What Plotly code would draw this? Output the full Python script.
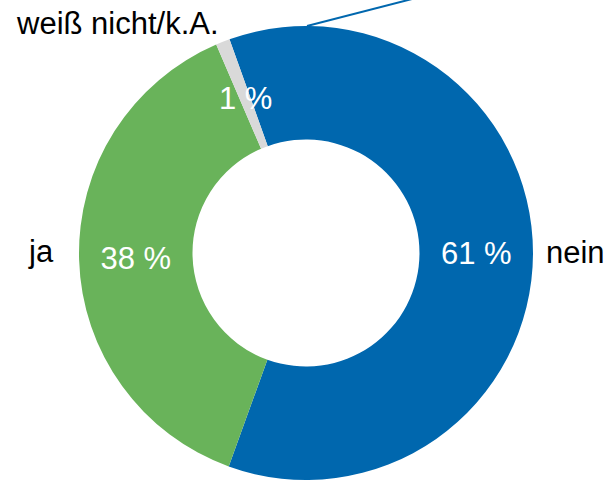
import plotly.graph_objects as go

categories = ["nein", "ja", "weiß nicht/k.A."]
values = [61, 38, 1]
pct_labels = ["61 %", "38 %", "1 %"]
colors = ["#0067AE", "#69B35A", "#D9D9D9"]

FONT = "Liberation Sans, Arial, sans-serif"
FS = 31

fig = go.Figure()
fig.add_trace(go.Pie(
    labels=categories,
    values=values,
    text=pct_labels,
    texttemplate=["%{text}", "%{text}", ""],
    textinfo="text",
    textposition="inside",
    insidetextorientation="horizontal",
    insidetextfont=dict(family=FONT, size=FS, color="white"),
    sort=False,
    direction="clockwise",
    rotation=340.3,
    hole=0.5,
    marker=dict(colors=colors, line=dict(width=0)),
    domain=dict(x=[79 / 608, 533 / 608], y=[2 / 482, 456 / 482]),
    showlegend=False,
    hoverinfo="label+percent",
))

W, H = 608, 482

def px(x):
    return x / W

def py(y):
    return 1 - y / H

annos = [
    dict(text=categories[2], x=px(14), y=py(23), xanchor="left", yanchor="middle", color="black"),
    dict(text=categories[1], x=px(41), y=py(251), xanchor="center", yanchor="middle", color="black"),
    dict(text=categories[0], x=px(575), y=py(252), xanchor="center", yanchor="middle", color="black"),
    dict(text=pct_labels[2], x=px(245), y=py(99), xanchor="center", yanchor="middle", color="white"),
]
for a in annos:
    fig.add_annotation(
        text=a["text"], x=a["x"], y=a["y"], xref="paper", yref="paper",
        xanchor=a["xanchor"], yanchor=a["yanchor"], showarrow=False,
        font=dict(family=FONT, size=FS, color=a["color"]),
    )

fig.add_shape(type="line", xref="paper", yref="paper",
              x0=px(307), y0=py(26), x1=px(412), y1=py(-1),
              line=dict(color="#0067AE", width=2))

fig.update_layout(
    width=W, height=H,
    margin=dict(l=0, r=0, t=0, b=0),
    paper_bgcolor="white",
    plot_bgcolor="white",
    font=dict(family=FONT),
)

fig.write_html(
    "out.html",
    config={"displayModeBar": False},
    post_script="document.body.style.margin='0';document.body.style.padding='0';",
)
